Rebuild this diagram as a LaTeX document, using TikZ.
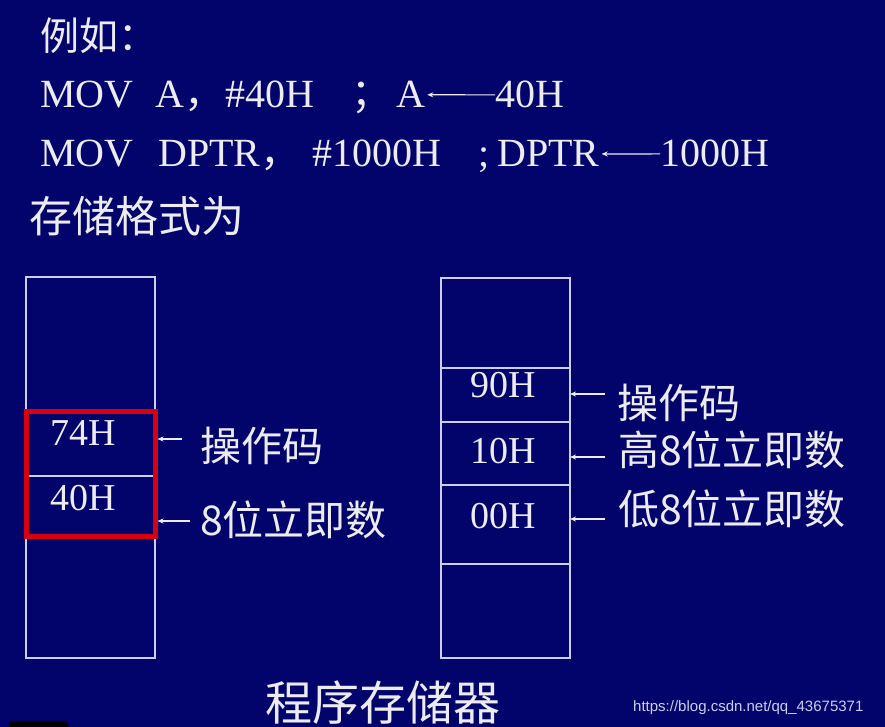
\documentclass[tikz,border=0pt]{standalone}
\usepackage{fontspec}
\setmainfont{Liberation Serif}
\newfontfamily\cjk{Noto Sans CJK SC}
\newfontfamily\urlfont{Liberation Sans}
\usetikzlibrary{positioning}
\usetikzlibrary{fit}
\usetikzlibrary{arrows.meta}
\definecolor{slide}{RGB}{3,3,108}
\definecolor{txt}{RGB}{236,236,240}
\definecolor{cellline}{RGB}{205,205,238}
\definecolor{hilite}{RGB}{214,0,16}
\tikzset{
	>={Stealth[length=6pt,width=5pt]},
	cell/.style={
		draw=cellline, line width=1.2pt,
		minimum width=129pt,
		inner sep=0pt, outer sep=0pt},
	code/.style={text=txt, font=\fontsize{40}{44}\selectfont, inner sep=0pt, anchor=base west},
	hexval/.style={text=txt, font=\fontsize{38}{42}\selectfont, inner sep=0pt, anchor=base west},
	cjktext/.style={text=txt, font=\cjk\fontsize{41}{44}\selectfont, inner sep=0pt, anchor=west},
	ptr/.style={draw=txt, line width=1.2pt, ->},
	movarrow/.style={draw=txt, line width=1.2pt, <-, shorten <=2pt},
}
\begin{document}
\begin{tikzpicture}[x=1pt,y=-1pt]
	\fill[slide] (0,0) rectangle (885,727);
	\useasboundingbox (0,0) rectangle (885,727);
	
	% text lines
	\node[cjktext, font=\cjk\fontsize{39}{42}\selectfont] (example) at (40,36) {例如：};
	\node[code] (movA) at (40,108) {MOV};
	\node[code] (regA) at (155,108) {A{\cjk ，}};
	\node[code] (immA) at (225,108) {\#40H};
	\node[code] (semiA) at (351,108) {{\cjk ；}};
	\node[code] (dstA) at (396,108) {A};
	\node[code] (srcA) at (495,108) {40H};
	\draw[movarrow] (dstA.east) -- (srcA.west);
	
	\node[code] (movB) at (40,167) {MOV};
	\node[code] (regB) at (158,167) {DPTR{\cjk ，}};
	\node[code] (immB) at (312,167) {\#1000H};
	\node[code] (semiB) at (478,167) {;};
	\node[code] (dstB) at (497,167) {DPTR};
	\node[code] (srcB) at (660,167) {1000H};
	\draw[movarrow] (dstB.east) -- (srcB.west);
	
	\node[cjktext, font=\cjk\fontsize{43}{46}\selectfont] (store) at (29,216) {存储格式为};
	
	% left memory
	\node[cell, minimum height=134pt, anchor=north west] (l1) at (26,277) {};
	\node[cell, minimum height=65pt, below=0pt of l1] (l2) {};
	\node[cell, minimum height=60pt, below=0pt of l2] (l3) {};
	\node[cell, minimum height=122pt, below=0pt of l3] (l4) {};
	\node[fit=(l2)(l3), draw=hilite, line width=5pt, inner sep=0pt] (redbox) {};
	\node[hexval] (hv74) at (50,445) {74H};
	\node[hexval] (hv40) at (50,510) {40H};
	
	\node[cjktext] (opL) at (200,446) {操作码};
	\node[cjktext] (immL) at (200,520) {8位立即数};
	\coordinate (aL1) at (182,439);
	\coordinate (aL2) at (190,521);
	\draw[ptr] (aL1) -- (aL1 -| redbox.east);
	\draw[ptr] (aL2) -- (aL2 -| redbox.east);
	
	% right memory
	\node[cell, minimum height=90pt, anchor=north west] (r1) at (441,278) {};
	\node[cell, minimum height=54pt, below=0pt of r1] (r2) {};
	\node[cell, minimum height=63pt, below=0pt of r2] (r3) {};
	\node[cell, minimum height=79pt, below=0pt of r3] (r4) {};
	\node[cell, minimum height=94pt, below=0pt of r4] (r5) {};
	\node[hexval] (hv90) at (470,397) {90H};
	\node[hexval] (hv10) at (470,463) {10H};
	\node[hexval] (hv00) at (470,528) {00H};
	
	\node[cjktext] (opR) at (617,403) {操作码};
	\node[cjktext] (hiR) at (618,450) {高8位立即数};
	\node[cjktext] (loR) at (618,509) {低8位立即数};
	\coordinate (aR1) at (605,394);
	\coordinate (aR2) at (605,457);
	\coordinate (aR3) at (605,519);
	\draw[ptr] (aR1) -- (aR1 -| r2.east);
	\draw[ptr] (aR2) -- (aR2 -| r3.east);
	\draw[ptr] (aR3) -- (aR3 -| r4.east);
	
	\node[cjktext, font=\cjk\fontsize{47}{50}\selectfont] (title) at (265,703) {程序存储器};
	\node[text=cellline, font=\urlfont\fontsize{15}{17}\selectfont, inner sep=0pt, anchor=west] (url) at (633,708) {https://blog.csdn.net/qq\_43675371};
	\fill[black, rounded corners=4pt] (9,721) rectangle (68,740);
\end{tikzpicture}
\end{document}
